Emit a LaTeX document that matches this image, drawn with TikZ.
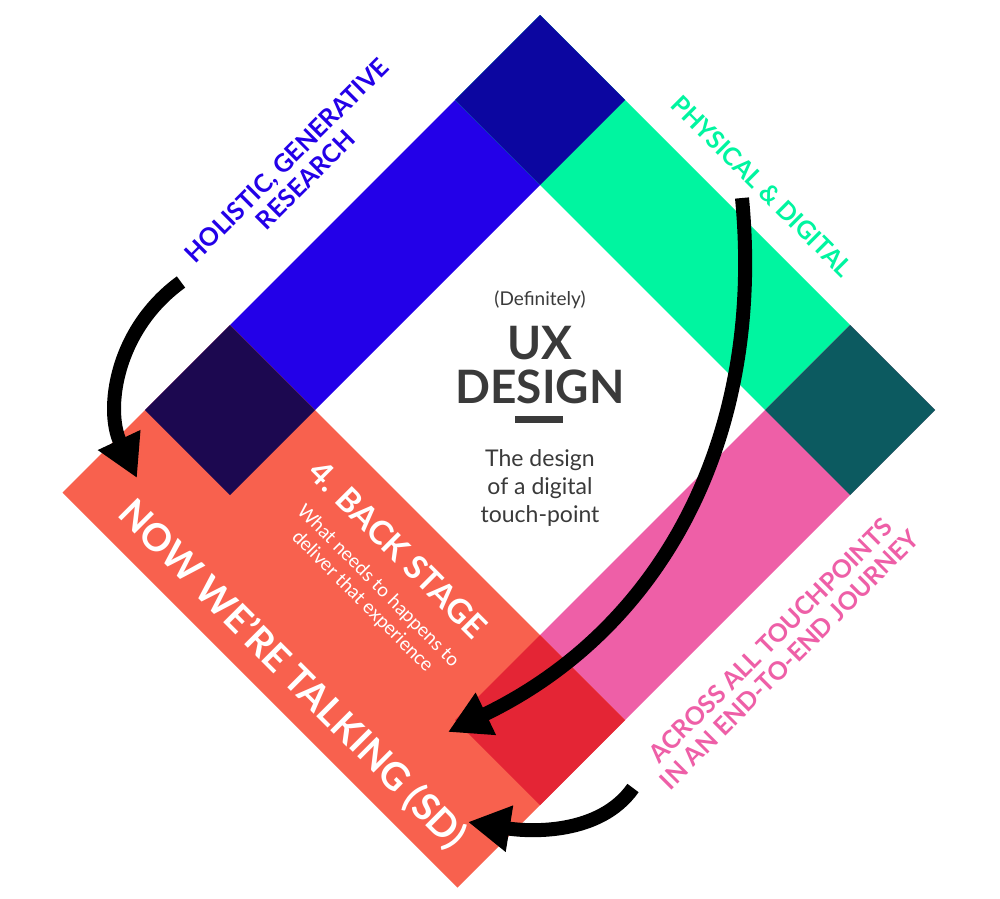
\documentclass[tikz,border=0pt]{standalone}
\usepackage{fontspec}
\setmainfont{Lato}
\usetikzlibrary{arrows.meta}
\definecolor{cblue}{HTML}{2300E8}
\definecolor{cgreen}{HTML}{00F5A0}
\definecolor{cpink}{HTML}{EE5FA7}
\definecolor{cred}{HTML}{F8614E}
\definecolor{ctop}{HTML}{0C06A0}
\definecolor{cleft}{HTML}{1C0850}
\definecolor{cright}{HTML}{0C5A60}
\definecolor{cbot}{HTML}{E42535}
\definecolor{ctext}{HTML}{3A3A3A}
\tikzset{bigarrow/.style={line width=14pt,-{Triangle[length=42pt,width=44pt]}},
 lbl/.style={font=\bfseries\fontsize{25}{27}\selectfont,align=center},
 wlbl/.style={text=white,align=center}}
\begin{document}
\begin{tikzpicture}[x=1pt,y=-1pt]
\useasboundingbox (0,0) rectangle (1000,898);
\fill[white] (0,0) rectangle (1000,898);
\fill[cblue] (145,410)--(540,15)--(625,100)--(230,495)--cycle;
\fill[cgreen] (455,100)--(540,15)--(935,410)--(850,495)--cycle;
\fill[cpink] (455,720)--(850,325)--(935,410)--(540,805)--cycle;
\fill[cred] (62.5,492.5)--(230,325)--(625,720)--(457.5,887.5)--cycle;
\fill[ctop] (455,100)--(540,15)--(625,100)--(540,185)--cycle;
\fill[cleft] (145,410)--(230,325)--(315,410)--(230,495)--cycle;
\fill[cright] (765,410)--(850,325)--(935,410)--(850,495)--cycle;
\fill[cbot] (455,720)--(540,635)--(625,720)--(540,805)--cycle;
% center
\node[text=ctext,font=\fontsize{19}{21}\selectfont] (def) at (540,300) {(Definitely)};
\node[text=ctext,font=\bfseries\fontsize{46}{44}\selectfont,align=center] (ux) at (540,365) {UX\\DESIGN};
\fill[ctext] (515,416) rectangle (563,423);
\node[text=ctext,font=\fontsize{23}{28}\selectfont,align=center] (sub) at (540,488) {The design\\of a digital\\touch-point};
% rotated labels
\node[lbl,text=cblue,rotate=45] (hol) at (296,170) {HOLISTIC, GENERATIVE\\RESEARCH};
\node[lbl,text=cgreen,rotate=-45] (phy) at (762,186) {PHYSICAL \& DIGITAL};
\node[lbl,text=cpink,rotate=45] (acr) at (780,650) {ACROSS ALL TOUCHPOINTS\\IN AN END-TO-END JOURNEY};
\node[wlbl,rotate=-45,font=\bfseries\fontsize{33}{35}\selectfont] (back) at (398,549) {4. BACK STAGE};
\node[wlbl,rotate=-45,font=\fontsize{19}{22}\selectfont] (what) at (370,594) {What needs to happens to\\deliver that experience};
\node[wlbl,rotate=-45,font=\bfseries\fontsize{38}{40}\selectfont] (now) at (292,675) {NOW WE'RE TALKING (SD)};
% arrows
\coordinate (a1s) at (181,282); \coordinate (a1e) at (137,478);
\coordinate (a2s) at (742,198); \coordinate (a2e) at (448,732);
\coordinate (a3s) at (633,788); \coordinate (a3e) at (468,822);
\draw[bigarrow] (a1s) .. controls (115,330) and (105,410) .. (a1e);
\draw[bigarrow] (a2s) .. controls (765,440) and (660,630) .. (a2e);
\draw[bigarrow] (a3s) .. controls (600,835) and (530,832) .. (a3e);
\end{tikzpicture}
\end{document}
